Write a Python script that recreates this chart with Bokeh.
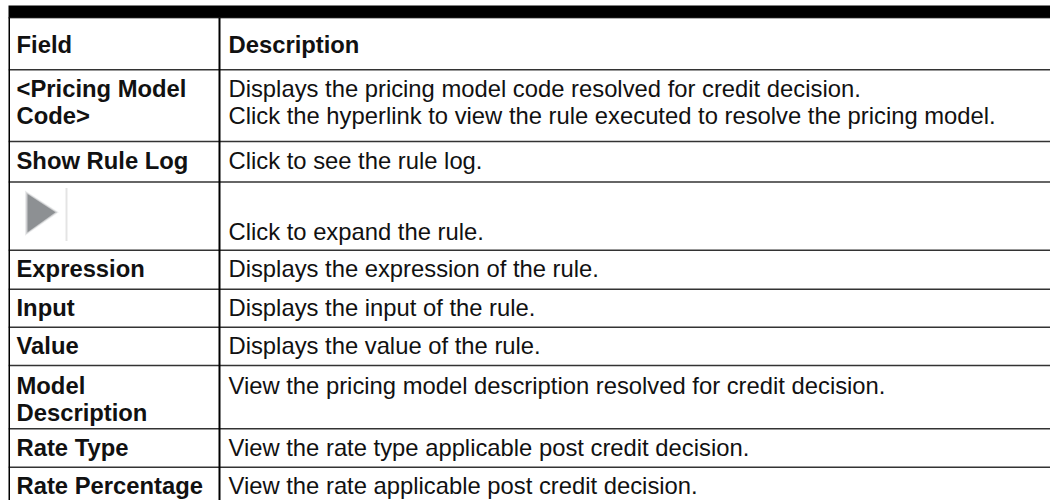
from bokeh.plotting import figure
from bokeh.models import Range1d, ColumnDataSource
from bokeh.core.properties import value
from bokeh.embed import file_html
from bokeh.resources import INLINE

# ---------------- data (table content) ----------------
header = ["Field", "Description"]
fields = [
    "<Pricing Model\nCode>",
    "Show Rule Log",
    "",
    "Expression",
    "Input",
    "Value",
    "Model\nDescription",
    "Rate Type",
    "Rate Percentage",
]
descriptions = [
    "Displays the pricing model code resolved for credit decision.\n"
    "Click the hyperlink to view the rule executed to resolve the pricing model.",
    "Click to see the rule log.",
    "Click to expand the rule.",
    "Displays the expression of the rule.",
    "Displays the input of the rule.",
    "Displays the value of the rule.",
    "View the pricing model description resolved for credit decision.",
    "View the rate type applicable post credit decision.",
    "View the rate applicable post credit decision.",
]
icon_row = 2  # index in fields that shows the expand icon

# ---------------- layout (pixel space) ----------------
W, H = 1042, 495
X0, X1 = 8, 1050
Y0, Y1 = 5, 500
bar_bottom = 17.3
row_edges = [17.3, 69.3, 141, 181.5, 249.8, 288.8, 326.7, 365, 428.3, 466.7, 515]
baseline_off = [36, 28, 28, 59, 28, 28, 28, 29, 28, 28]
text_dy = -9.5  # renderer baseline correction
line_gap = 27
col_div = 219
x_field = 16
x_desc = 228
FONT = "Liberation Sans"
FSIZE = "23.8px"

p = figure(width=W, height=H, x_range=Range1d(X0, X1), y_range=Range1d(Y1, Y0),
           output_backend="svg", toolbar_location=None,
           x_axis_location=None, y_axis_location=None,
           min_border=0, outline_line_color=None,
           background_fill_color="white", border_fill_color="white")
p.margin = (5, 0, 0, 8)
p.xgrid.visible = False
p.ygrid.visible = False

# top black bar
p.quad(left=[X0 - 1], right=[X1 + 2], top=[Y0 - 1], bottom=[bar_bottom], color="black")

# horizontal row separators
hy = row_edges[1:-1]
p.segment(x0=[X0] * len(hy), x1=[X1 + 2] * len(hy), y0=hy, y1=hy,
          line_color="#333333", line_width=1.6)

# vertical lines
p.segment(x0=[X0 + 0.5, col_div], x1=[X0 + 0.5, col_div], y0=[bar_bottom] * 2, y1=[row_edges[-1]] * 2,
          line_color="black", line_width=2)

# texts
bold_x, bold_y, bold_t = [], [], []
reg_x, reg_y, reg_t = [], [], []

def add(lst_x, lst_y, lst_t, x, top, off, txt):
    for k, line in enumerate(txt.split("\n")):
        if line:
            lst_x.append(x)
            lst_y.append(top + off + k * line_gap + text_dy)
            lst_t.append(line)

add(bold_x, bold_y, bold_t, x_field, row_edges[0], baseline_off[0], header[0])
add(bold_x, bold_y, bold_t, x_desc, row_edges[0], baseline_off[0], header[1])
for i, (f, d) in enumerate(zip(fields, descriptions)):
    r = i + 1
    add(bold_x, bold_y, bold_t, x_field, row_edges[r], baseline_off[r], f)
    add(reg_x, reg_y, reg_t, x_desc, row_edges[r], baseline_off[r], d)

p.text(x="x", y="y", text="t", source=ColumnDataSource(dict(x=bold_x, y=bold_y, t=bold_t)),
       text_font=value(FONT), text_font_style="bold", text_font_size=FSIZE,
       text_color="#111111", text_baseline="alphabetic", text_align="left")
p.text(x="x", y="y", text="t", source=ColumnDataSource(dict(x=reg_x, y=reg_y, t=reg_t)),
       text_font=value(FONT), text_font_size=FSIZE,
       text_color="#111111", text_baseline="alphabetic", text_align="left")

# expand icon (blurred grey triangle + faint dotted divider)
itop = row_edges[icon_row + 1]
tx = [27, 55, 27]
ty = [itop + 12, itop + 30.2, itop + 50.2]
for grow, alpha in [(2.5, 0.18), (1.3, 0.35), (0.0, 1.0)]:
    p.patch(x=[tx[0] - grow, tx[1] + grow * 1.3, tx[2] - grow],
            y=[ty[0] - grow * 1.4, ty[1], ty[2] + grow * 1.4],
            fill_color="#8d9093", fill_alpha=alpha, line_color=None)
p.segment(x0=[66], x1=[66], y0=[itop + 6.5], y1=[itop + 59],
          line_color="#c9c9c9", line_width=2, line_dash="1 1")

open("out.html", "w").write(file_html(p, INLINE))
